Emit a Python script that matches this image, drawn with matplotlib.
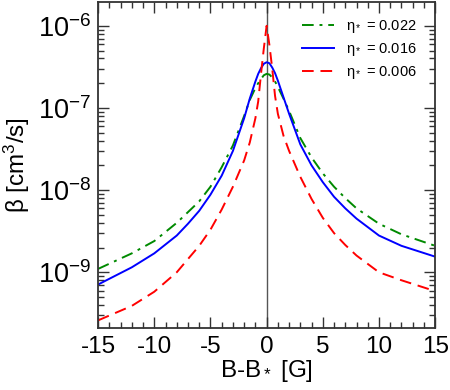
import matplotlib
matplotlib.use('Agg')
import matplotlib.pyplot as plt
from matplotlib.ticker import MultipleLocator, LogLocator, NullFormatter

plt.rcParams['font.family'] = ['Liberation Sans', 'DejaVu Sans']
plt.rcParams['mathtext.fontset'] = 'custom'
plt.rcParams['mathtext.rm'] = 'Liberation Sans'
plt.rcParams['mathtext.it'] = 'Liberation Sans'
plt.rcParams['axes.unicode_minus'] = False

# B - B* in gauss
b_shift = [-15, -12, -10, -8, -7, -6, -5, -4, -3, -2, -1.5, -1, -0.75, -0.5, -0.25, 0,
           0.25, 0.5, 0.75, 1, 1.5, 2, 3, 4, 5, 6, 7, 8, 10, 12, 15]

# loss rate beta [cm^3/s]
beta_022 = [1.1e-9, 1.7e-9, 2.4e-9, 4.0e-9, 5.4e-9, 7.3e-9, 1.1e-8, 1.9e-8, 3.5e-8, 8.0e-8, 1.25e-7, 1.75e-7, 2.0e-7, 2.25e-7, 2.5e-7, 2.6e-7,
            2.55e-7, 2.35e-7, 2.1e-7, 1.8e-7, 1.3e-7, 9.2e-8, 4.3e-8, 2.5e-8, 1.6e-8, 1.1e-8, 8.0e-9, 6.0e-9, 3.9e-9, 2.9e-9, 2.1e-9]
beta_016 = [7.1e-10, 1.15e-9, 1.7e-9, 2.8e-9, 3.9e-9, 5.6e-9, 8.8e-9, 1.5e-8, 3.0e-8, 7.5e-8, 1.3e-7, 2.1e-7, 2.6e-7, 3.05e-7, 3.45e-7, 3.6e-7,
            3.5e-7, 3.1e-7, 2.65e-7, 2.15e-7, 1.35e-7, 8.5e-8, 3.6e-8, 2.0e-8, 1.25e-8, 8.3e-9, 6.0e-9, 4.5e-9, 2.8e-9, 2.1e-9, 1.55e-9]
beta_006 = [2.6e-10, 3.9e-10, 5.8e-10, 1.0e-9, 1.45e-9, 2.1e-9, 3.3e-9, 5.8e-9, 1.1e-8, 2.3e-8, 3.8e-8, 7.5e-8, 1.2e-7, 2.6e-7, 5.3e-7, 1.0e-6,
            5.8e-7, 3.0e-7, 1.4e-7, 8.5e-8, 4.6e-8, 3.0e-8, 1.45e-8, 7.8e-9, 4.6e-9, 3.0e-9, 2.15e-9, 1.6e-9, 1.0e-9, 8.0e-10, 5.9e-10]

fig = plt.figure(figsize=(4.5, 3.9), dpi=100)
ax = fig.add_axes([0.218, 0.159, 0.749, 0.836])

ax.axvline(0, color='#555555', lw=1.0, zorder=1)
ax.plot(b_shift, beta_022, color='#008a00', lw=1.4, dashes=(6, 3, 1.5, 3), label=r'η$_*$ = 0.022')
ax.plot(b_shift, beta_016, color='#0000ff', lw=1.4, label=r'η$_*$ = 0.016')
ax.plot(b_shift, beta_006, color='#ff0000', lw=1.4, dashes=(6, 3.5), label=r'η$_*$ = 0.006')

ax.set_yscale('log')
ax.set_xlim(-15, 15)
ax.set_ylim(2.1e-10, 1.95e-6)
ax.xaxis.set_major_locator(MultipleLocator(5))
ax.xaxis.set_minor_locator(MultipleLocator(1))
ax.yaxis.set_major_locator(LogLocator(base=10, numticks=10))
ax.yaxis.set_minor_locator(LogLocator(base=10, subs=range(2, 10), numticks=10))
ax.yaxis.set_minor_formatter(NullFormatter())

ax.tick_params(which='both', direction='in', top=True, right=True, width=1, color='#333333')
ax.tick_params(which='major', length=8, pad=6)
ax.tick_params(which='minor', length=4)
ax.tick_params(axis='x', labelsize=17.5)
ax.tick_params(axis='y', labelsize=19.5, pad=5)
for s in ax.spines.values():
    s.set_linewidth(1.3)
    s.set_color('#333333')

ax.set_xlabel(r'B-B$_*$ [G]', fontsize=17.5, labelpad=0)
ax.set_ylabel(r'β [cm$^3$/s]', fontsize=17.5, labelpad=4)

ax.legend(loc='upper right', bbox_to_anchor=(0.962, 0.968), frameon=False, fontsize=10.5,
          handlelength=2.2, borderaxespad=0, borderpad=0.4, labelspacing=0.4, handletextpad=0.8)

fig.savefig('out.png', dpi=100)
